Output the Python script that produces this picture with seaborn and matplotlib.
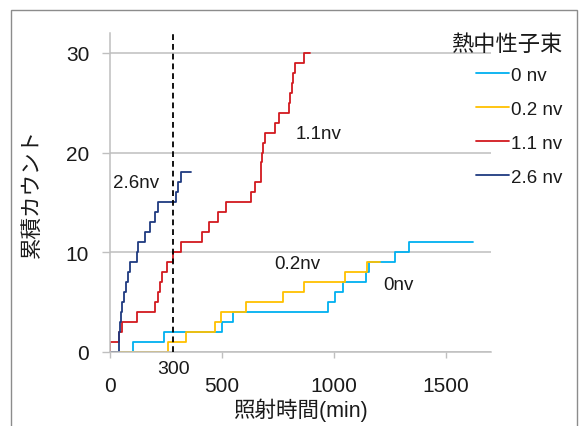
import numpy as np
import pandas as pd
import seaborn as sns
import matplotlib
matplotlib.use("Agg")
import matplotlib.pyplot as plt
import matplotlib.patches as mpatches
import matplotlib.transforms as mtransforms

## times (min) at which the cumulative count goes up by one
t_0nv = [104, 243, 499, 551, 971, 1006, 1040, 1144, 1155, 1270, 1334]
end_0nv = 1621
t_02nv = [261, 340, 469, 494, 607, 772, 867, 1050, 1147]
end_02nv = 1204
t_11nv = [1, 40, 52, 119, 201, 213, 224, 234, 253, 283, 318, 410, 440, 481, 517,
          630, 645, 672, 675, 678, 682, 692, 738, 755, 797, 805, 812, 818, 827, 864]
end_11nv = 894
t_26nv = [40, 42, 44, 50, 55, 62, 70, 80, 89, 119, 127, 156, 179, 201, 212, 294, 303, 317]
end_26nv = 360

series_names = ["0 nv", "0.2 nv", "1.1 nv", "2.6 nv"]
series_times = [t_0nv, t_02nv, t_11nv, t_26nv]
series_ends = [end_0nv, end_02nv, end_11nv, end_26nv]
colors = ["#00B0F0", "#FFC000", "#D2191F", "#1F3A80"]

## in-plot labels (text, x in min, y in counts)
note_text = ["2.6nv", "1.1nv", "0.2nv", "0nv"]
note_x = [116, 930, 836, 1288]
note_y = [17.0, 21.9, 8.9, 6.75]

dash_min = 283   # the dashed "300 min" marker
dash_label = "300"

## build the long table of step points
rows = []
for name, times, end in zip(series_names, series_times, series_ends):
    xs = [0] + list(times) + [end]
    ys = [0] + list(range(1, len(times) + 1)) + [len(times)]
    for x, y in zip(xs, ys):
        rows.append((name, x, y))
df = pd.DataFrame(rows, columns=["series", "min", "count"])

sns.set_theme(style="white")
plt.rcParams["font.family"] = ["Liberation Sans", "Noto Sans CJK JP", "DejaVu Sans"]

fig = plt.figure(figsize=(5.8, 4.27), dpi=100)
ax = fig.add_axes([110 / 580, 1 - 352.7 / 427, (491 - 110) / 580, (352.7 - 34) / 427])

sns.lineplot(data=df, x="min", y="count", hue="series", hue_order=series_names,
             palette=colors, estimator=None, sort=False, drawstyle="steps-post",
             linewidth=1.3, legend=False, ax=ax)

ax.axvline(dash_min, color="black", linestyle=(0, (3.2, 2.2)), linewidth=1.3, zorder=5)

ax.set_xlim(0, 1700)
ax.set_ylim(0, 32)
ax.set_xticks([0, 500, 1000, 1500])
ax.set_yticks([0, 10, 20, 30])
ax.yaxis.grid(True, color="#BFBFBF", linewidth=1.1)
ax.set_axisbelow(True)
for side in ["top", "right"]:
    ax.spines[side].set_visible(False)
for side in ["left", "bottom"]:
    ax.spines[side].set_color("#BFBFBF")
    ax.spines[side].set_linewidth(1.1)

ax.tick_params(axis="y", length=6, width=1, color="#BFBFBF", pad=9,
               labelsize=15, labelcolor="#1a1a1a", left=True)
ax.tick_params(axis="x", length=4.5, width=1, color="#BFBFBF", pad=13,
               labelsize=15, labelcolor="#1a1a1a", bottom=True)

ax.set_xlabel("照射時間(min)", fontsize=15.5, color="#1a1a1a")
ax.set_ylabel("累積カウント", fontsize=15.5, color="#1a1a1a")
ax.xaxis.set_label_coords(0.5, (352.7 - 399) / 318.7)
ax.yaxis.set_label_coords((43 - 110) / 381, 0.5)

trans = mtransforms.blended_transform_factory(ax.transData, ax.transAxes)
ax.text(dash_min, (352.7 - 369) / 318.7, dash_label, transform=trans,
        ha="center", va="center", fontsize=14, color="#1a1a1a")

for txt, x, y in zip(note_text, note_x, note_y):
    ax.text(x, y, txt, ha="center", va="center", fontsize=13.5, color="#1a1a1a")

handles = ax.get_lines()[:4]
leg = ax.legend(handles, series_names, title="熱中性子束", loc="upper right",
                bbox_to_anchor=(562 / 580, 1 - 35 / 427), bbox_transform=fig.transFigure,
                frameon=False, fontsize=13.5, title_fontsize=16, handlelength=1.75,
                handletextpad=0.1, labelspacing=0.9, borderpad=0, borderaxespad=0,
                alignment="right")
leg._legend_box.sep = 8.5   # tighter gap between title and entries
for t in leg.get_texts():
    t.set_color("#1a1a1a")
leg.get_title().set_color("#1a1a1a")

fig.add_artist(mpatches.Rectangle((11 / 580, -0.1), (577 - 11) / 580, 1.1 - 11 / 427,
                                  transform=fig.transFigure, fill=False,
                                  edgecolor="#8C8C8C", linewidth=1))

fig.savefig("out.png", dpi=100)
